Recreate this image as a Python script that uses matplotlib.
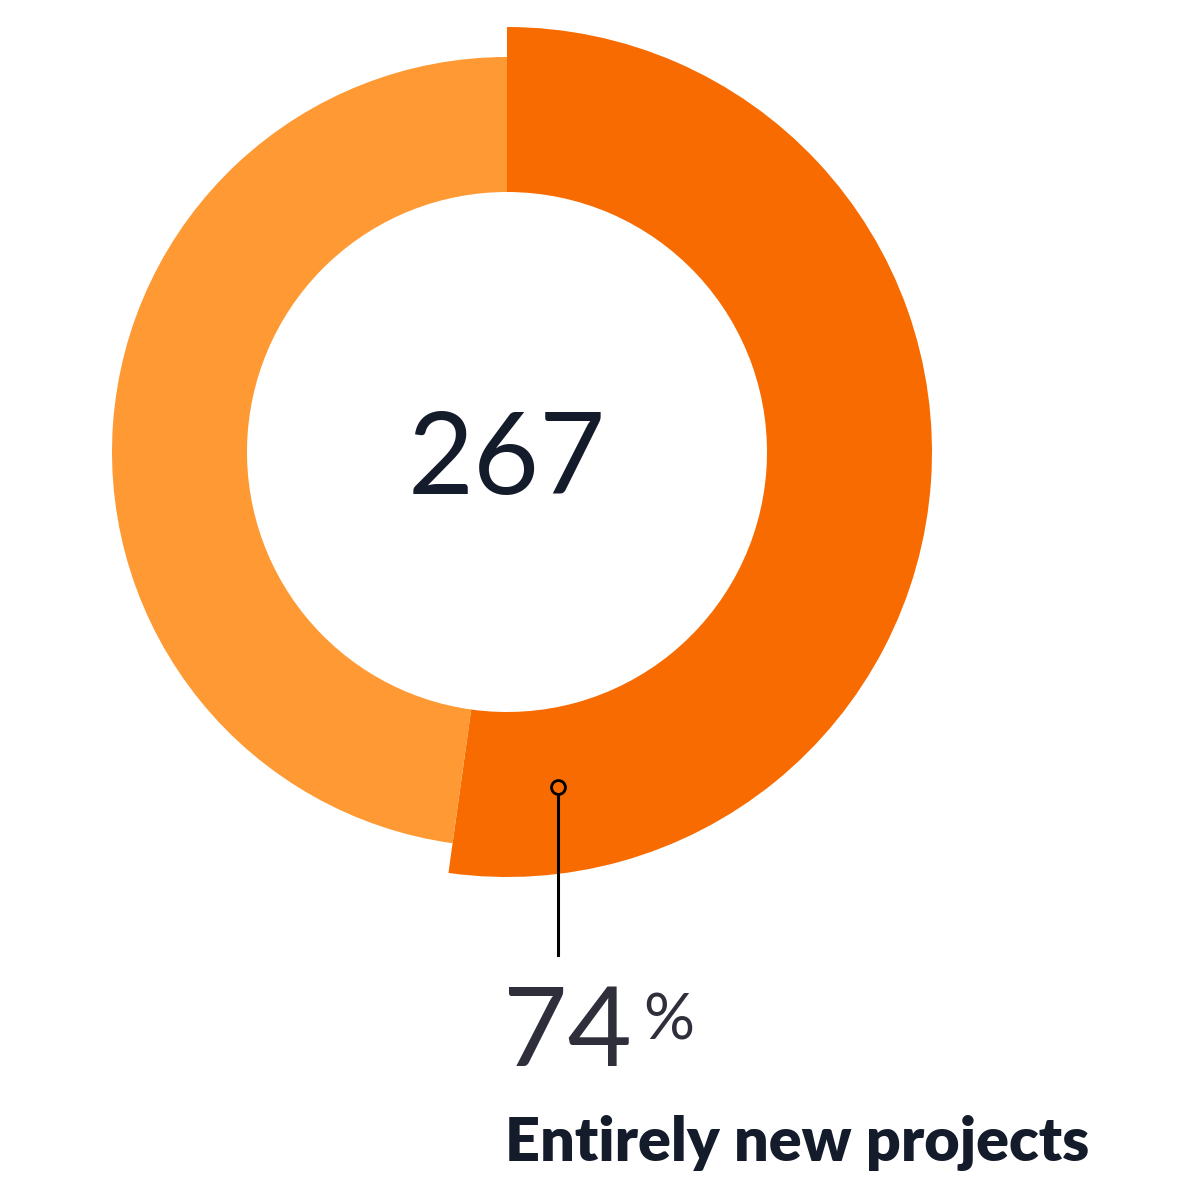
import matplotlib
matplotlib.use("Agg")
import matplotlib.pyplot as plt

# data
segments = ["Entirely new projects", "Other"]
shares = [52.2, 47.8]
total_label = "267"
callout_value = "74"
callout_text = "Entirely new projects"

dark = "#F76B00"
light = "#FF9933"
navy = "#141B2B"

fig = plt.figure(figsize=(12, 12), dpi=100)
ax = fig.add_axes([0, 0, 1, 1])
cx, cy = 507, 748

# outer (dark) ring, larger radius
ax.pie(shares, radius=425, center=(cx, cy), startangle=90, counterclock=False,
       colors=[dark, "none"], wedgeprops=dict(width=165, linewidth=0), frame=True)
# inner (light) ring
ax.pie(shares, radius=395, center=(cx, cy), startangle=90, counterclock=False,
       colors=["none", light], wedgeprops=dict(width=135, linewidth=0), frame=True)

ax.text(cx, 1200 - 494, total_label, ha="center", va="baseline", fontsize=82,
        family="Lato", color=navy)

# callout
ax.plot([558, 558], [1200 - 787, 1200 - 955], color="black", lw=2.2)
ax.plot([558], [1200 - 787], marker="o", ms=10, mfc=dark, mec="black", mew=2)

ax.text(503, 1200 - 1066, callout_value, ha="left", va="baseline", fontsize=80,
        family="Lato", color="#2E2F3A")
ax.text(643, 1200 - 1040, "%", ha="left", va="baseline", fontsize=46,
        family="Lato", color="#2E2F3A")
ax.text(505, 1200 - 1161, callout_text, ha="left", va="baseline", fontsize=44,
        family="Lato", fontweight="heavy", color=navy)

ax.set_xlim(0, 1200)
ax.set_ylim(0, 1200)
ax.set_aspect("equal")
ax.axis("off")
fig.savefig("out.png", dpi=100, facecolor="white")
